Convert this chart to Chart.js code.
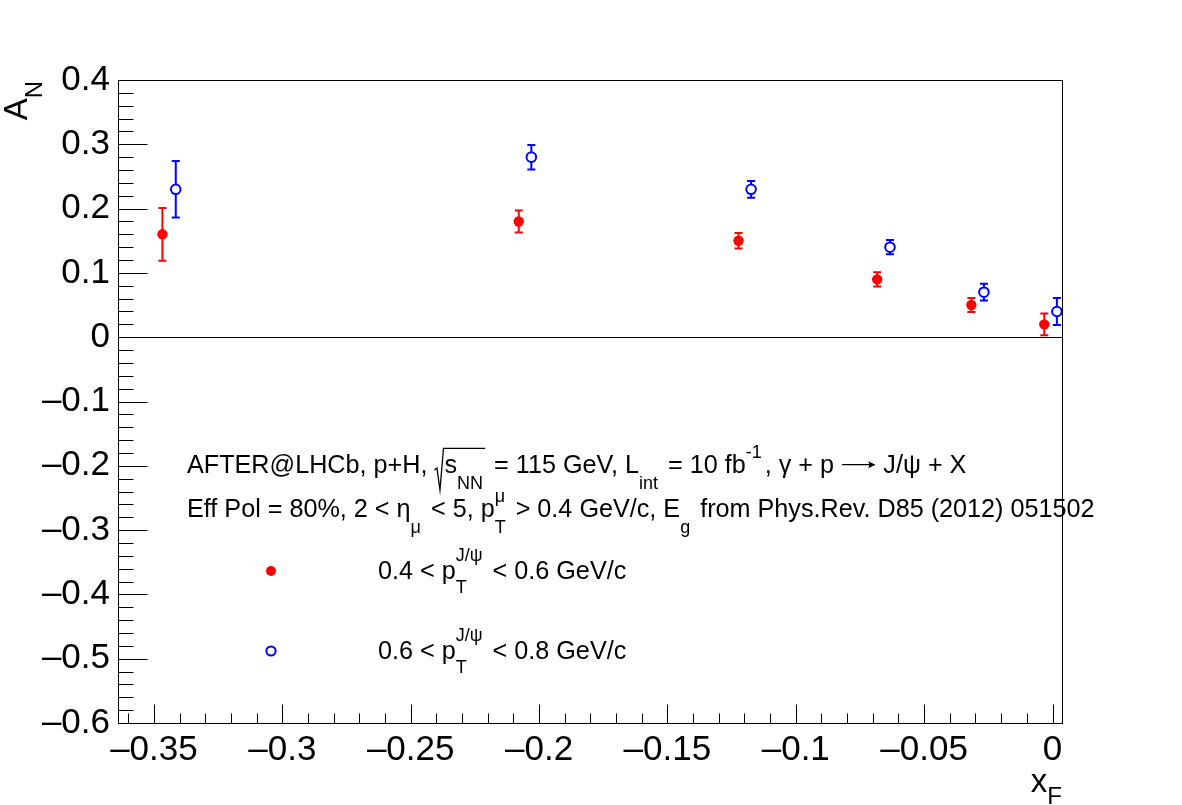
<!DOCTYPE html>
<html>
<head>
<meta charset="utf-8">
<script src="https://cdn.jsdelivr.net/npm/chart.js@4.4.0/dist/chart.umd.min.js"></script>
<style>
  body { margin: 0; background: #ffffff; }
  canvas { display: block; }
</style>
</head>
<body>
<canvas id="anChart" width="1182" height="805"></canvas>
<script>
// x_F bins and A_N values
const xRed = [-0.3467, -0.2079, -0.1223, -0.0683, -0.0316, -0.0032];
const yRed = [0.160, 0.180, 0.150, 0.090, 0.050, 0.020];
const errRed = [0.041, 0.017, 0.012, 0.011, 0.011, 0.017];

const xBlue = [-0.3415, -0.2030, -0.1174, -0.0633, -0.0267, 0.0017];
const yBlue = [0.230, 0.280, 0.230, 0.140, 0.070, 0.040];
const errBlue = [0.044, 0.019, 0.013, 0.011, 0.013, 0.021];

const xTicks = [-0.35, -0.3, -0.25, -0.2, -0.15, -0.1, -0.05, 0];
const yTicks = [-0.6, -0.5, -0.4, -0.3, -0.2, -0.1, 0, 0.1, 0.2, 0.3, 0.4];

// rich text: strings are normal, {sub, sup} are small, {sqrt: [...]} gets a root sign
const infoLine1 = ['AFTER@LHCb, p+H, ', {sqrt: ['s', {sub: 'NN'}]}, ' = 115 GeV, L', {sub: 'int'},
  ' = 10 fb', {sup: '-1'}, ', \u03b3 + p ', {arrow: true}, ' J/\u03c8 + X'];
const infoLine2 = ['Eff Pol = 80%, 2 < \u03b7', {sub: '\u03bc'}, ' < 5, p', {sub: 'T', sup: '\u03bc'},
  ' > 0.4 GeV/c, E', {sub: 'g'}, ' from Phys.Rev. D85 (2012) 051502'];
const redLabel = ['0.4 < p', {sub: 'T', sup: 'J/\u03c8'}, ' < 0.6 GeV/c'];
const blueLabel = ['0.6 < p', {sub: 'T', sup: 'J/\u03c8'}, ' < 0.8 GeV/c'];
const yTitle = ['A', {sub: 'N'}];
const xTitle = ['x', {sub: 'F'}];

const RED = '#ff0000';
const BLUE = '#0000ff';
const FONT = '"Liberation Sans", Arial, Helvetica, sans-serif';

function fmt(v) {
    const r = Math.round(v * 100) / 100;
    if (r === 0) return '0';
    return (r < 0 ? '\u2013' : '') + String(Math.abs(r));
}

function toPoints(xs, ys) {
    return xs.map((x, i) => ({x: x, y: ys[i]}));
}

// draws (or only measures when draw is false) a piece of rich text, returns end x
function drawRich(ctx, x, y, parts, size, draw, opt) {
    opt = opt || {};
    const small = Math.round(size * 0.72);
    const subDrop = size * (opt.subDrop || 0.62);
    const supRise = size * (opt.supRise || 0.62);
    const gap = opt.gap === undefined ? 3 : opt.gap;
    parts.forEach(function (p) {
        if (typeof p === 'string') {
            ctx.font = size + 'px ' + FONT;
            if (draw) ctx.fillText(p, x, y);
            x += ctx.measureText(p).width;
            return;
        }
        if (p.arrow) {
            const w = size * 1.4;
            if (draw) {
                const ay = y - size * 0.33;
                ctx.save();
                ctx.strokeStyle = ctx.fillStyle;
                ctx.lineWidth = 1.2;
                ctx.beginPath();
                ctx.moveTo(x + 1, ay);
                ctx.lineTo(x + w - 2, ay);
                ctx.stroke();
                ctx.beginPath();
                ctx.moveTo(x + w - 1, ay);
                ctx.lineTo(x + w - 8, ay - 3.5);
                ctx.lineTo(x + w - 7, ay);
                ctx.lineTo(x + w - 8, ay + 3.5);
                ctx.closePath();
                ctx.fill();
                ctx.restore();
            }
            x += w;
            return;
        }
        if (p.sqrt) {
            const x0 = x;
            const inner = x0 + size * 0.4;
            const end = drawRich(ctx, inner, y, p.sqrt, size, draw, {subDrop: opt.subDrop, supRise: opt.supRise, gap: 1});
            if (draw) {
                const top = y - size * 0.98;
                ctx.save();
                ctx.strokeStyle = ctx.fillStyle;
                ctx.lineWidth = 1.3;
                ctx.beginPath();
                ctx.moveTo(x0, y - size * 0.12);
                ctx.lineTo(x0 + size * 0.1, y - size * 0.2);
                ctx.lineTo(x0 + size * 0.22, y + size * 0.68);
                ctx.lineTo(x0 + size * 0.36, top);
                ctx.lineTo(end + 1, top);
                ctx.stroke();
                ctx.restore();
            }
            x = end + 3;
            return;
        }
        ctx.font = small + 'px ' + FONT;
        let w = 0;
        if (p.sub) {
            if (draw) ctx.fillText(p.sub, x, y + subDrop);
            w = Math.max(w, ctx.measureText(p.sub).width);
        }
        if (p.sup) {
            if (draw) ctx.fillText(p.sup, x, y - supRise);
            w = Math.max(w, ctx.measureText(p.sup).width);
        }
        x += w + gap;
    });
    return x;
}

const rootStyle = {
    id: 'rootStyle',
    beforeDatasetsDraw(chart) {
        const ctx = chart.ctx;
        const xs = chart.scales.x;
        const ys = chart.scales.y;
        const area = chart.chartArea;
        ctx.save();
        // line at A_N = 0
        ctx.strokeStyle = '#000';
        ctx.lineWidth = 1;
        const y0 = Math.round(ys.getPixelForValue(0)) + 0.5;
        ctx.beginPath();
        ctx.moveTo(area.left, y0);
        ctx.lineTo(area.right, y0);
        ctx.stroke();

        // error bars
        const sets = [[xRed, yRed, errRed, RED], [xBlue, yBlue, errBlue, BLUE]];
        ctx.lineWidth = 2;
        sets.forEach(function (s) {
            ctx.strokeStyle = s[3];
            s[0].forEach(function (xv, i) {
                const px = xs.getPixelForValue(xv);
                const top = ys.getPixelForValue(s[1][i] + s[2][i]);
                const bot = ys.getPixelForValue(s[1][i] - s[2][i]);
                ctx.beginPath();
                ctx.moveTo(px, top);
                ctx.lineTo(px, bot);
                ctx.moveTo(px - 4, top);
                ctx.lineTo(px + 4, top);
                ctx.moveTo(px - 4, bot);
                ctx.lineTo(px + 4, bot);
                ctx.stroke();
            });
        });
        ctx.restore();
    },
    afterDraw(chart) {
        const ctx = chart.ctx;
        const xs = chart.scales.x;
        const ys = chart.scales.y;
        const area = chart.chartArea;
        const L = Math.round(area.left) + 0.5;
        const R = Math.round(area.right) + 0.5;
        const T = Math.round(area.top) + 0.5;
        const B = Math.round(area.bottom) + 0.5;
        ctx.save();
        ctx.strokeStyle = '#000';
        ctx.lineWidth = 1;
        ctx.strokeRect(L, T, R - L, B - T);

        // inward ticks, ROOT style
        ctx.beginPath();
        for (let k = -60; k <= 40; k += 2) {
            const py = Math.round(ys.getPixelForValue(k / 100)) + 0.5;
            const len = (k % 10 === 0) ? 29 : 15;
            ctx.moveTo(L, py);
            ctx.lineTo(L + len, py);
        }
        for (let k = -36; k <= 0; k += 1) {
            const px = Math.round(xs.getPixelForValue(k / 100)) + 0.5;
            const len = (k % 5 === 0) ? 19 : 10;
            ctx.moveTo(px, B);
            ctx.lineTo(px, B - len);
        }
        ctx.stroke();

        ctx.fillStyle = '#000';
        ctx.textAlign = 'left';
        ctx.textBaseline = 'alphabetic';

        // axis titles
        const xw = drawRich(ctx, 0, 0, xTitle, 33, false, {subDrop: 0.36, gap: 0});
        drawRich(ctx, area.right - xw, 792, xTitle, 33, true, {subDrop: 0.36, gap: 0});

        const yw = drawRich(ctx, 0, 0, yTitle, 33, false, {subDrop: 0.46, gap: 0});
        ctx.save();
        ctx.translate(27, area.top + 1);
        ctx.rotate(-Math.PI / 2);
        drawRich(ctx, -yw, 0, yTitle, 33, true, {subDrop: 0.46, gap: 0});
        ctx.restore();

        // info text
        drawRich(ctx, 187, 473, infoLine1, 25.2, true, {supRise: 0.6});
        drawRich(ctx, 187, 517, infoLine2, 25.2, true, {supRise: 0.6});

        // legend
        ctx.beginPath();
        ctx.fillStyle = RED;
        ctx.arc(271, 571, 5, 0, Math.PI * 2);
        ctx.fill();
        ctx.beginPath();
        ctx.strokeStyle = BLUE;
        ctx.lineWidth = 2;
        ctx.arc(271, 651, 4.6, 0, Math.PI * 2);
        ctx.stroke();
        ctx.fillStyle = '#000';
        drawRich(ctx, 378, 579, redLabel, 25.2, true, {supRise: 0.72, subDrop: 0.56});
        drawRich(ctx, 378, 659, blueLabel, 25.2, true, {supRise: 0.72, subDrop: 0.56});
        ctx.restore();
    }
};

document.addEventListener('DOMContentLoaded', function () {
    const ctx = document.getElementById('anChart').getContext('2d');
    const anChart = new Chart(ctx, {
        type: 'scatter',
        data: {
            datasets: [{
                label: '0.4 < pT < 0.6 GeV/c',
                data: toPoints(xRed, yRed),
                backgroundColor: RED,
                borderColor: RED,
                borderWidth: 0,
                pointRadius: 5.2,
                pointHoverRadius: 5.2
            }, {
                label: '0.6 < pT < 0.8 GeV/c',
                data: toPoints(xBlue, yBlue),
                backgroundColor: '#ffffff',
                borderColor: BLUE,
                borderWidth: 2,
                pointRadius: 4.8,
                pointHoverRadius: 4.8
            }]
        },
        options: {
            responsive: false,
            animation: false,
            devicePixelRatio: 1,
            layout: { padding: { top: 80, right: 120, left: 0, bottom: 0 } },
            plugins: {
                legend: { display: false },
                tooltip: { enabled: false }
            },
            scales: {
                x: {
                    type: 'linear',
                    min: -0.3640,
                    max: 0.0037,
                    grid: { display: false, drawTicks: false },
                    border: { display: false },
                    ticks: {
                        color: '#000',
                        font: { family: FONT, size: 35 },
                        padding: 6,
                        maxRotation: 0,
                        autoSkip: false,
                        callback: function (v) { return fmt(v); }
                    },
                    afterBuildTicks: function (scale) {
                        scale.ticks = xTicks.map(v => ({value: v}));
                    },
                    afterFit: function (scale) { scale.height = 82; }
                },
                y: {
                    type: 'linear',
                    min: -0.6,
                    max: 0.4,
                    grid: { display: false, drawTicks: false },
                    border: { display: false },
                    ticks: {
                        color: '#000',
                        font: { family: FONT, size: 35 },
                        padding: 8,
                        autoSkip: false,
                        callback: function (v) { return fmt(v); }
                    },
                    afterBuildTicks: function (scale) {
                        scale.ticks = yTicks.map(v => ({value: v}));
                    },
                    afterFit: function (scale) { scale.width = 118; }
                }
            }
        },
        plugins: [rootStyle]
    });
});
</script>
</body>
</html>
